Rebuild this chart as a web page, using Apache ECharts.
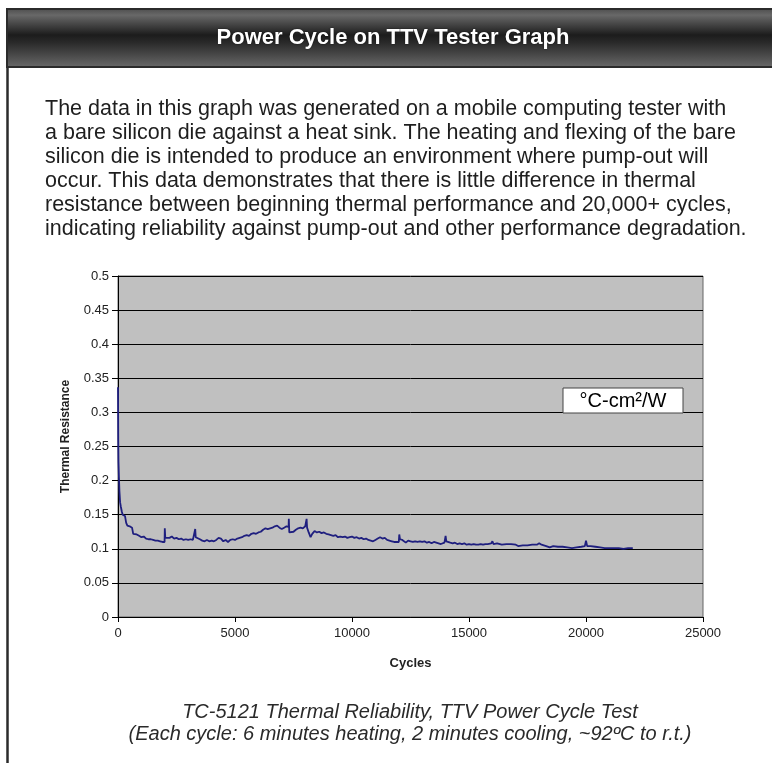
<!DOCTYPE html>
<html>
<head>
<meta charset="utf-8">
<title>Power Cycle on TTV Tester Graph</title>
<script src="https://cdn.jsdelivr.net/npm/echarts@6/dist/echarts.min.js"></script>
<style>
  html, body { margin: 0; padding: 0; background: #fff; }
  #main { width: 772px; height: 763px; }
</style>
</head>
<body>
<div id="main"></div>
<script>
// data (cycles -> thermal resistance, °C-cm2/W)
var cycles = [
  0, 10, 20, 40, 60, 90, 120, 160, 200, 250, 300, 350, 400, 450, 500, 550, 600, 650, 700, 800,
  900, 1000, 1100, 1200, 1300, 1400, 1500, 1600, 1700, 1800, 1900, 1990, 2000, 2020, 2100, 2200,
  2300, 2400, 2500, 2600, 2700, 2800, 2900, 3000, 3100, 3200, 3280, 3300, 3320, 3400, 3500, 3600,
  3700, 3800, 3900, 4000, 4100, 4200, 4300, 4400, 4500, 4600, 4700, 4800, 4900, 5000, 5100, 5200,
  5300, 5400, 5500, 5600, 5700, 5800, 5900, 6000, 6100, 6200, 6300, 6400, 6500, 6600, 6700, 6800,
  6900, 7000, 7100, 7200, 7290, 7300, 7320, 7400, 7500, 7600, 7700, 7800, 7900, 8000, 8050, 8060,
  8080, 8150, 8230, 8300, 8400, 8500, 8600, 8700, 8800, 8900, 9000, 9100, 9200, 9300, 9400, 9500,
  9600, 9700, 9800, 9900, 10000, 10100, 10200, 10300, 10400, 10500, 10600, 10700, 10800, 10900, 11000, 11100,
  11200, 11300, 11400, 11500, 11600, 11700, 11800, 11900, 12000, 12020, 12050, 12150, 12300, 12400, 12500, 12600,
  12700, 12800, 12900, 13000, 13100, 13200, 13300, 13400, 13500, 13600, 13700, 13800, 13950, 14000, 14030, 14100,
  14200, 14300, 14400, 14500, 14600, 14700, 14800, 14900, 15000, 15100, 15200, 15300, 15400, 15500, 15600, 15700,
  15800, 15950, 16000, 16050, 16200, 16400, 16600, 16800, 17000, 17100, 17300, 17500, 17700, 17900, 18000, 18100,
  18300, 18450, 18600, 18800, 19000, 19200, 19400, 19600, 19800, 19950, 20000, 20050, 20200, 20400, 20600, 20800,
  21000, 21200, 21400, 21600, 21800, 22000
];
var resistance = [
  0.337, 0.26, 0.228, 0.205, 0.185, 0.168, 0.162, 0.155, 0.150, 0.151, 0.148, 0.138, 0.134, 0.135, 0.133, 0.134, 0.131, 0.122, 0.120, 0.121,
  0.119, 0.117, 0.118, 0.115, 0.114, 0.114, 0.113, 0.112, 0.112, 0.111, 0.110, 0.110, 0.130, 0.116, 0.117, 0.116,
  0.118, 0.115, 0.116, 0.114, 0.115, 0.113, 0.114, 0.113, 0.114, 0.113, 0.112, 0.129, 0.117, 0.115, 0.114, 0.112,
  0.111, 0.113, 0.111, 0.112, 0.111, 0.113, 0.116, 0.115, 0.111, 0.113, 0.110, 0.113, 0.114, 0.113, 0.115, 0.116,
  0.117, 0.119, 0.120, 0.119, 0.122, 0.123, 0.122, 0.124, 0.125, 0.128, 0.130, 0.129, 0.130, 0.131, 0.133, 0.134,
  0.131, 0.129, 0.131, 0.133, 0.132, 0.144, 0.124, 0.122, 0.125, 0.128, 0.130, 0.131, 0.130, 0.133, 0.134, 0.144,
  0.131, 0.124, 0.117, 0.122, 0.126, 0.124, 0.125, 0.123, 0.124, 0.122, 0.121, 0.120, 0.119, 0.120, 0.117, 0.118,
  0.117, 0.118, 0.116, 0.117, 0.118, 0.116, 0.117, 0.115, 0.116, 0.114, 0.115, 0.113, 0.112, 0.111, 0.113, 0.115,
  0.117, 0.115, 0.116, 0.113, 0.112, 0.111, 0.110, 0.110, 0.110, 0.121, 0.114, 0.113, 0.109, 0.112, 0.111, 0.110,
  0.111, 0.110, 0.111, 0.110, 0.111, 0.109, 0.110, 0.108, 0.110, 0.109, 0.108, 0.107, 0.109, 0.119, 0.111, 0.110,
  0.109, 0.108, 0.109, 0.107, 0.108, 0.107, 0.108, 0.106, 0.107, 0.106, 0.107, 0.106, 0.106, 0.107, 0.106, 0.107,
  0.107, 0.108, 0.111, 0.107, 0.108, 0.106, 0.107, 0.107, 0.106, 0.104, 0.105, 0.105, 0.106, 0.106, 0.108, 0.106,
  0.104, 0.102, 0.104, 0.103, 0.103, 0.102, 0.101, 0.102, 0.103, 0.104, 0.112, 0.104, 0.104, 0.103, 0.102, 0.101,
  0.101, 0.101, 0.101, 0.100, 0.101, 0.101
];
var yTicks = [0, 0.05, 0.1, 0.15, 0.2, 0.25, 0.3, 0.35, 0.4, 0.45, 0.5];
var xTicks = [0, 5000, 10000, 15000, 20000, 25000];

var headerTitle = 'Power Cycle on TTV Tester Graph';
var introLines = [
  'The data in this graph was generated on a mobile computing tester with',
  'a bare silicon die against a heat sink. The heating and flexing of the bare',
  'silicon die is intended to produce an environment where pump-out will',
  'occur. This data demonstrates that there is little difference in thermal',
  'resistance between beginning thermal performance and 20,000+ cycles,',
  'indicating reliability against pump-out and other performance degradation.'
];
var captionLines = [
  'TC-5121 Thermal Reliability, TTV Power Cycle Test',
  '(Each cycle: 6 minutes heating, 2 minutes cooling, ~92ºC to r.t.)'
];
var unitLabel = '°C-cm²/W';

var FONT = '"Liberation Sans", Arial, Helvetica, sans-serif';

var chart = echarts.init(document.getElementById('main'), null, { renderer: 'canvas' });

var seriesData = cycles.map(function (c, i) { return [c, resistance[i]]; });

function tickText(list, v) {
  for (var i = 0; i < list.length; i++) {
    if (Math.abs(list[i] - v) < 1e-9) return String(list[i]);
  }
  return '';
}

// header band + left frame + intro text
var graphics = [
  {
    type: 'rect', z: 0,
    shape: { x: 7, y: 9, width: 770, height: 58 },
    style: {
      fill: new echarts.graphic.LinearGradient(0, 0, 0, 1, [
        { offset: 0, color: '#4c4c4c' },
        { offset: 0.12, color: '#686868' },
        { offset: 0.45, color: '#1c1c1c' },
        { offset: 0.58, color: '#2a2a2a' },
        { offset: 1, color: '#6a6a6a' }
      ]),
      stroke: '#2b2b2b', lineWidth: 2
    }
  },
  {
    type: 'line', z: 1,
    shape: { x1: 7.5, y1: 67, x2: 7.5, y2: 763 },
    style: { stroke: '#2b2b2b', lineWidth: 2.5 }
  },
  {
    type: 'text', z: 2,
    style: {
      text: headerTitle, x: 393, y: 38, align: 'center', verticalAlign: 'middle',
      fill: '#ffffff', font: 'bold 22px ' + FONT,
      textShadowColor: 'rgba(0,0,0,0.6)', textShadowBlur: 2
    }
  },
  {
    type: 'text', z: 2,
    style: { text: unitLabel, x: 623, y: 401, align: 'center', verticalAlign: 'middle', fill: '#000', font: '20px ' + FONT }
  }
];
introLines.forEach(function (line, i) {
  graphics.push({
    type: 'text', z: 2,
    style: { text: line, x: 45, y: 109 + i * 24, verticalAlign: 'middle', fill: '#1e1e1e', font: '21.5px ' + FONT }
  });
});
captionLines.forEach(function (line, i) {
  graphics.push({
    type: 'text', z: 2,
    style: { text: line, x: 410, y: 712 + i * 22, align: 'center', verticalAlign: 'middle', fill: '#2a2a2a', font: 'italic 20px ' + FONT }
  });
});
// unit box
graphics.push({
  type: 'rect', z: 1,
  shape: { x: 563, y: 388, width: 120, height: 25 },
  style: { fill: '#ffffff', stroke: '#444', lineWidth: 1 }
});

chart.setOption({
  animation: false,
  backgroundColor: '#ffffff',
  textStyle: { fontFamily: FONT },
  grid: {
    left: 118, right: 69, top: 276, bottom: 146,
    show: true, backgroundColor: '#c0c0c0', borderColor: '#666', borderWidth: 1
  },
  xAxis: {
    type: 'value', min: 0, max: 25000, interval: 5000,
    name: 'Cycles', nameLocation: 'middle', nameGap: 40,
    nameTextStyle: { fontWeight: 'bold', fontSize: 13, color: '#222' },
    axisLine: { lineStyle: { color: '#000', width: 1 } },
    axisTick: { show: true, length: 5, lineStyle: { color: '#000' } },
    axisLabel: {
      color: '#222', fontSize: 13, margin: 10,
      formatter: function (v) { return tickText(xTicks, v); }
    },
    splitLine: { show: false }
  },
  yAxis: {
    type: 'value', min: 0, max: 0.5, interval: 0.05,
    name: 'Thermal Resistance', nameLocation: 'middle', nameGap: 46, nameRotate: 90,
    nameTextStyle: { fontWeight: 'bold', fontSize: 12, color: '#222', padding: [0, 0, 0, 20] },
    axisLine: { show: true, lineStyle: { color: '#000', width: 1 } },
    axisTick: { show: true, length: 6, lineStyle: { color: '#000' } },
    axisLabel: {
      color: '#222', fontSize: 13, margin: 9,
      formatter: function (v) { return tickText(yTicks, v); }
    },
    splitLine: { show: true, lineStyle: { color: '#000', width: 1 } }
  },
  series: [{
    type: 'line',
    data: seriesData,
    showSymbol: false,
    lineStyle: { color: '#1f1f7f', width: 1.8 },
    itemStyle: { color: '#1f1f7f' },
    z: 3
  }],
  graphic: graphics
});
</script>
</body>
</html>
